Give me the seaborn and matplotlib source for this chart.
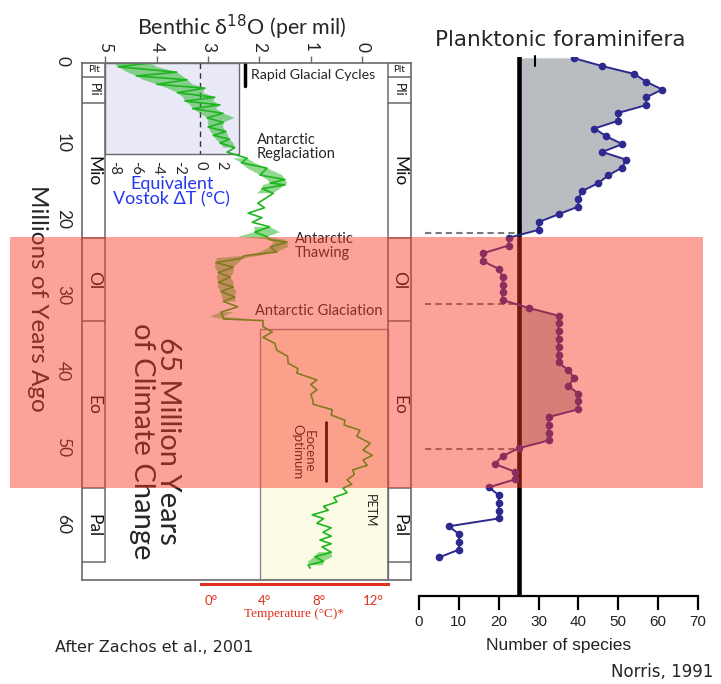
import numpy as np
import pandas as pd
import matplotlib
matplotlib.use("Agg")
import matplotlib.pyplot as plt
import seaborn as sns
from matplotlib.patches import Rectangle

sns.set_style("white")
plt.rcParams['font.family'] = ['Lato', 'DejaVu Sans']

# ---------------- data ----------------
# Planktonic foraminifera (Norris, 1991): age step index vs number of species
norris_age = [0, 1, 2, 3, 4, 5, 6, 7, 8, 9, 10, 11, 12, 13, 14, 15, 16, 17, 18, 19,
              20, 21, 22, 23, 24, 25, 26, 27, 28, 29, 30, 31, 32, 33, 34, 35, 36, 37, 38, 39,
              40, 41, 42, 43, 44, 45, 46, 47, 48, 49, 50, 51, 52, 53, 54, 55, 56, 57, 58, 59,
              60, 61, 62, 63, 64]
norris_species = [39, 46, 54, 57, 61, 57, 57, 50, 50, 44, 47, 51, 46, 52, 51, 47.5, 45, 41, 40, 40,
                  35, 30, 30, 22.5, 22.5, 16, 16, 20, 21, 21, 21, 21, 27.5, 35, 35, 35, 35, 35, 35, 35,
                  37.5, 39, 37.5, 40, 40, 40, 32.5, 32.5, 32.5, 32.5, 25, 21, 19, 24, 24, 17.5, 20, 20, 20, 20,
                  7.5, 10, 10, 10, 5]
species_threshold = 25
split_ages = [22.4, 31.5, 50.1]

# Benthic d18O (Zachos et al., 2001): age (Ma) with low / high edge of the noisy record
d18o_age = [0.0, 0.5, 1.2, 1.7, 2.2, 2.8, 3.3, 3.9, 4.5, 5.0, 5.5, 6.0, 6.6, 7.2, 7.8, 8.4, 9.0, 9.5,
            10.0, 10.5, 11.1, 11.7, 12.5, 13.1, 13.8, 14.7, 15.3, 15.75, 16.0, 16.5, 17.1, 18.4, 19.0,
            19.7, 20.3, 20.9, 21.5, 22.2, 22.8, 23.2, 23.5, 24.15, 24.8, 25.3, 25.6, 26.2, 26.8, 27.5,
            28.1, 28.8, 29.4, 30.0, 30.7, 31.3, 32.0, 32.7, 33.3, 33.6, 33.8, 34.6, 35.3, 36.0, 36.8,
            37.7, 38.5, 39.4, 40.1, 40.7, 41.6, 42.2, 42.9, 43.5, 44.2, 44.8, 45.5, 46.2, 46.9, 47.5,
            48.2, 49.0, 49.9, 50.8, 51.5, 52.1, 52.8, 53.4, 54.0, 54.7, 55.3, 55.8, 56.4, 57.0, 57.6,
            58.2, 58.7, 59.3, 59.8, 60.4, 61.0, 61.6, 62.1, 62.6, 63.1, 63.5, 64.2, 64.8, 65.4, 65.9, 66.3]
d18o_low = [4.13, 4.00, 3.61, 3.50, 3.41, 3.30, 3.06, 3.10, 2.87, 2.90, 2.77, 2.85, 2.71, 2.48, 2.70, 2.71,
            2.65, 2.61, 2.58, 2.51, 2.48, 2.44, 2.24, 2.10, 1.85, 1.56, 1.50, 1.46, 1.50, 1.60, 1.73, 1.85,
            1.90, 1.99, 1.95, 1.93, 1.80, 1.60, 1.85, 1.50, 1.46, 1.44, 1.66, 2.00, 2.32, 2.40, 2.51, 2.50,
            2.57, 2.50, 2.51, 2.45, 2.48, 2.45, 2.42, 2.50, 2.71, 2.20, 1.93, 1.73, 1.75, 1.77, 1.70, 1.54,
            1.45, 1.35, 1.25, 1.15, 0.88, 0.90, 0.88, 0.90, 0.96, 0.85, 0.58, 0.45, 0.33, 0.25, 0.04, 0.00,
            -0.16, -0.16, -0.20, -0.16, -0.10, 0.06, 0.15, 0.10, 0.20, -0.25, 0.29, 0.40, 0.49, 0.60, 0.66,
            0.82, 0.75, 0.62, 0.60, 0.57, 0.60, 0.62, 0.60, 0.57, 0.60, 0.58, 0.75, 0.76, 1.01]
d18o_high = [4.85, 4.75, 4.58, 4.40, 4.27, 4.00, 3.80, 3.60, 3.49, 3.45, 3.35, 3.30, 3.16, 3.02, 3.00, 3.00,
             2.95, 2.90, 2.85, 2.77, 2.70, 2.63, 2.51, 2.35, 2.24, 1.99, 1.85, 1.79, 1.93, 1.95, 2.05, 2.03,
             2.10, 2.22, 2.15, 2.14, 2.10, 2.09, 2.42, 1.80, 1.73, 1.79, 1.99, 2.30, 2.83, 2.85, 2.87, 2.80,
             2.83, 2.80, 2.81, 2.75, 2.73, 2.70, 2.63, 2.75, 2.96, 2.70, 2.10, 1.93, 1.93, 1.93, 1.82, 1.66,
             1.55, 1.44, 1.32, 1.27, 1.05, 1.00, 1.01, 1.00, 1.05, 0.95, 0.76, 0.60, 0.49, 0.35, 0.18, 0.10,
             -0.10, -0.02, -0.05, -0.02, 0.05, 0.18, 0.25, 0.29, 0.35, 0.37, 0.49, 0.55, 0.68, 0.75, 0.82,
             0.97, 0.90, 0.88, 0.80, 0.76, 0.80, 0.82, 0.75, 0.78, 0.85, 0.92, 1.05, 1.05, 1.21]

epoch_names = ["Plt", "Pli", "Mio", "Ol", "Eo", "Pal"]
epoch_bounds = [0, 1.8, 5.3, 23.0, 33.9, 55.8, 65.5]
epoch_sizes = [7, 9, 12.5, 12.5, 12.5, 12.5]
epoch_rot = [0, -90, -90, -90, -90, -90]

d18o_ticks = [5, 4, 3, 2, 1, 0]
age_ticks = [0, 10, 20, 30, 40, 50, 60]
dT_ticks = [-8, -6, -4, -2, 0, 2]
temp_major = [0, 4, 8, 12]
temp_minor = [2, 6, 10]
species_ticks = [0, 10, 20, 30, 40, 50, 60, 70]

# ---------------- layout helpers ----------------
W, H = 721, 684
fig = plt.figure(figsize=(W / 100, H / 100), dpi=100)
fig.patch.set_facecolor('white')


def box(x0, y0, x1, y1):
    return [x0 / W, 1 - y1 / H, (x1 - x0) / W, (y1 - y0) / H]


FRAME = '#6a6a6a'
GREEN = '#1FB51F'
NAVY = '#2C2A8E'
RED = '#E0301E'

# ---------------- left: benthic d18O ----------------
ax = fig.add_axes(box(82, 63, 411, 580))
ax.set_facecolor('none')
ax.set_zorder(2)
ax.set_xlim(5.458, -0.955)
ax.set_ylim(67.85, 0)

# background insets
ax.add_patch(Rectangle((5.0, 0), 2.40 - 5.0, 11.94, facecolor='#E9E9F8',
                       edgecolor=FRAME, lw=1.0, zorder=0.5))
ax.add_patch(Rectangle((1.988, 34.9), -0.5 - 1.988, 67.85 - 34.9, facecolor='#FCFCE6',
                       edgecolor='#8a8a8a', lw=1.0, zorder=0.5))
ax.plot([3.16, 3.16], [0, 11.94], color='#333333', lw=1.0, ls=(0, (4, 3)), zorder=0.8)

# green record
lo_arr = np.array(d18o_low)
hi_arr = np.array(d18o_high)
wide = (hi_arr - lo_arr) > 0.22
ax.fill_betweenx(d18o_age, d18o_low, d18o_high, where=wide, color=GREEN, alpha=0.5, lw=0, zorder=1)
zig = [lo if i % 2 == 0 else hi for i, (lo, hi) in enumerate(zip(d18o_low, d18o_high))]
sns.lineplot(x=zig, y=d18o_age, sort=False, orient='y', color=GREEN, lw=1.2, ax=ax, zorder=1.2)

# frame + epoch columns
ax.plot([5.0, 5.0], [0, 65.5], color=FRAME, lw=1.1)
ax.plot([-0.5, -0.5], [0, 67.85], color=FRAME, lw=1.1)
for b in epoch_bounds[1:]:
    ax.plot([5.458, 5.0], [b, b], color=FRAME, lw=1.1)
    ax.plot([-0.5, -0.955], [b, b], color=FRAME, lw=1.1)
for name, a0, a1, fs, rot in zip(epoch_names, epoch_bounds[:-1], epoch_bounds[1:], epoch_sizes, epoch_rot):
    for xc in (5.229, -0.7275):
        ax.text(xc, (a0 + a1) / 2, name, rotation=rot, ha='center', va='center',
                fontsize=fs, color='#111111')

for s in ax.spines.values():
    s.set_color(FRAME)
    s.set_linewidth(1.2)
ax.xaxis.tick_top()
ax.set_xticks(d18o_ticks)
ax.set_xticklabels([str(t) for t in d18o_ticks], rotation=-90, fontsize=12.5)
ax.set_yticks(age_ticks)
ax.set_yticklabels([str(t) for t in age_ticks], rotation=-90, fontsize=12.5)
ax.tick_params(axis='both', length=5, width=1, color=FRAME, pad=3)
ax.set_xlabel('')
ax.set_ylabel('')

# annotations
ax.plot([2.28, 2.28], [0, 3.0], color='black', lw=2.5)
ax.text(2.16, 1.55, 'Rapid Glacial Cycles', ha='left', va='center', fontsize=10.2)
ax.text(2.05, 11.0, 'Antarctic\nReglaciation', ha='left', va='center', fontsize=10.5, linespacing=1.0)
ax.text(1.31, 24.0, 'Antarctic\nThawing', ha='left', va='center', fontsize=10.5, linespacing=1.0)
ax.text(2.09, 32.5, 'Antarctic Glaciation', ha='left', va='center', fontsize=10.5)
ax.plot([0.70, 0.70], [47.1, 54.9], color='black', lw=2)
ax.text(1.15, 51.0, 'Eocene\nOptimum', rotation=-90, ha='center', va='center', fontsize=9.5,
        linespacing=1.0)
ax.text(-0.16, 58.8, 'PETM', rotation=-90, ha='center', va='center', fontsize=9)
ax.text(4.03, 49.6, '65 Million Years\nof Climate Change', rotation=-90, ha='center', va='center',
        fontsize=21, linespacing=1.0, multialignment='center')
ax.text(3.71, 16.9, 'Equivalent\nVostok ΔT (°C)', ha='center', va='center', fontsize=13,
        color='#2438F0', linespacing=1.0)

# Vostok dT axis (blue inset)
ax_dt = fig.add_axes(box(106, 63, 239, 154))
ax_dt.set_facecolor('none')
ax_dt.set_zorder(3)
ax_dt.set_xlim(-8.79, 3.64)
ax_dt.set_yticks([])
for s in ax_dt.spines.values():
    s.set_visible(False)
ax_dt.set_xticks(dT_ticks)
ax_dt.set_xticklabels([str(t) for t in dT_ticks], rotation=-90, fontsize=10.5)
ax_dt.tick_params(axis='x', direction='in', length=3, color=FRAME, pad=5)

# temperature inset ticks (yellow box)
ax_tb = fig.add_axes(box(260, 329, 388, 580))
ax_tb.set_facecolor('none')
ax_tb.set_zorder(3)
ax_tb.set_xlim(3.63, 13.11)
ax_tb.set_yticks([])
for s in ax_tb.spines.values():
    s.set_visible(False)
ax_tb.set_xticks([4, 6, 8, 10, 12])
ax_tb.set_xticklabels([])
ax_tb.tick_params(axis='x', direction='in', length=6, color='#999999')

# temperature axis (red)
ax_t = fig.add_axes(box(201, 583, 388, 584))
ax_t.set_facecolor('none')
ax_t.set_xlim(-0.74, 13.11)
ax_t.set_yticks([])
for k, s in ax_t.spines.items():
    s.set_visible(k == 'bottom')
ax_t.spines['bottom'].set_color(RED)
ax_t.spines['bottom'].set_linewidth(2.2)
ax_t.set_xticks(temp_major)
ax_t.set_xticks(temp_minor, minor=True)
ax_t.set_xticklabels([f'{t}°' for t in temp_major], fontsize=9.5, color=RED)
ax_t.tick_params(axis='x', which='both', direction='out', length=6, width=2, color=RED, pad=2)
ax_t.set_xlabel('Temperature (°C)*', fontsize=9.5, color=RED, family='Liberation Serif', labelpad=1)

# ---------------- right: planktonic foraminifera ----------------
ax_r = fig.add_axes(box(419, 57, 698, 596))
ax_r.set_facecolor('none')
ax_r.set_xlim(0, 70)
ax_r.set_ylim(68.94, -0.17)
age_arr = np.array(norris_age, dtype=float)
sp_arr = np.array(norris_species, dtype=float)
ax_r.fill_betweenx(age_arr, species_threshold, sp_arr, where=sp_arr >= species_threshold,
                   interpolate=True, color='#B9BCC0', lw=0, zorder=1)
for a in split_ages:
    ax_r.plot([1.5, species_threshold], [a, a], color='#7a7a7a', lw=1.5, ls=(0, (3, 2)), zorder=1.5)
ax_r.axvline(species_threshold, color='black', lw=3.3, zorder=2)
df = pd.DataFrame({'age': norris_age, 'species': norris_species})
sns.lineplot(data=df, x='species', y='age', orient='y', sort=False, color=NAVY, lw=1.4,
             marker='o', markersize=5.5, markeredgewidth=0, ax=ax_r, zorder=3)
ax_r.plot([29, 29], [-0.3, 1.0], color='black', lw=1.5, clip_on=False)
for k, s in ax_r.spines.items():
    s.set_visible(k == 'bottom')
ax_r.spines['bottom'].set_color('black')
ax_r.spines['bottom'].set_linewidth(1.6)
ax_r.set_yticks([])
ax_r.set_xticks(species_ticks)
ax_r.set_xticklabels([str(t) for t in species_ticks], fontsize=11, family='Liberation Sans',
                     color='#222222')
ax_r.tick_params(axis='x', length=10, width=1.6, color='black', pad=4, bottom=True)
ax_r.set_xlabel('Number of species', fontsize=12.5, family='Liberation Sans', color='#222222',
                labelpad=6)
ax_r.set_ylabel('')

# ---------------- figure texts ----------------
fig.text(242 / W, 1 - 27 / H, 'Benthic δ$^{18}$O (per mil)', ha='center', va='center', fontsize=15.5)
fig.text(560 / W, 1 - 40 / H, 'Planktonic foraminifera', ha='center', va='center', fontsize=15.5,
         family='DejaVu Sans')
fig.text(37 / W, 1 - 298 / H, 'Millions of Years Ago', rotation=-90, ha='center', va='center',
         fontsize=17.5)
fig.text(55 / W, 1 - 647 / H, 'After Zachos et al., 2001', ha='left', va='center', fontsize=11.5,
         family='DejaVu Sans')
fig.text(713 / W, 1 - 672 / H, 'Norris, 1991', ha='right', va='center', fontsize=12,
         family='DejaVu Sans')

# ---------------- red overlay band ----------------
fig.add_artist(Rectangle((10 / W, 1 - 488 / H), (703 - 10) / W, (488 - 237) / H,
                         transform=fig.transFigure, facecolor='#FA3621', alpha=0.46, lw=0,
                         zorder=10))

fig.savefig('out.png', dpi=100, facecolor='white')
